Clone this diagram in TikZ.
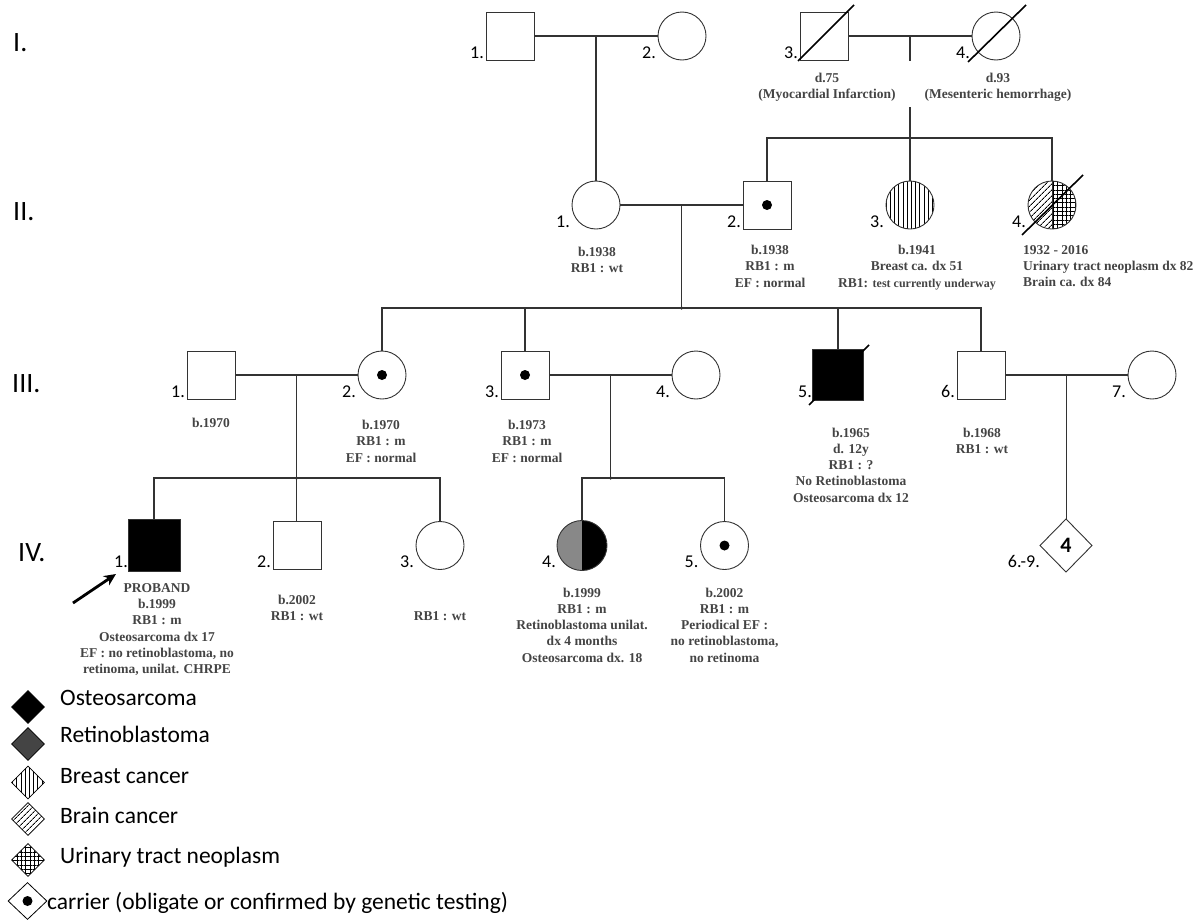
\documentclass[tikz,border=0pt]{standalone}
\usepackage{fontspec}
\setmainfont{Liberation Serif}
\newfontfamily\calib{Carlito}
\usetikzlibrary{
  arrows.meta,
  shapes.geometric,
  positioning,
  calc,
  patterns.meta
}
\definecolor{pgLine}{HTML}{333333}
\definecolor{pgText}{HTML}{444444}
\tikzset{
  person/.style={
    draw=pgLine, line width=0.9pt, minimum size=48pt, inner sep=0pt, outer sep=0pt
  },
  male/.style={person, rectangle},
  female/.style={person, circle},
  affected/.style={fill=black},
  carrier/.style={path picture={\fill[black] (path picture bounding box.center) circle[radius=5pt];}},
  deceased/.style={line width=1.6pt, black},
  pline/.style={line width=1.2pt, pgLine},
  junction/.style={circle, fill=pgLine, inner sep=0pt, minimum size=3.5pt},
  num/.style={font=\calib\fontsize{18}{18}\selectfont, anchor=base east, inner sep=0pt},
  gen/.style={font=\calib\fontsize{28}{28}\selectfont, anchor=base west, inner sep=0pt},
  info/.style={font=\bfseries\fontsize{13.5}{16.3}\selectfont, text=pgText, align=center, inner sep=0pt},
  osteo/.style={fill=black},
  breast/.style={pattern={Lines[angle=90, distance=4.2pt, line width=1pt]}},
  brain/.style={pattern={Lines[angle=45, distance=4pt, line width=0.85pt]}},
  urinary/.style={pattern={Hatch[angle=0, distance=4.3pt, line width=0.85pt]}},
  retino/.style={preaction={fill=black!30}, pattern={Dots[distance=2pt, radius=0.7pt]}},
  retinoleg/.style={preaction={fill=black!65}, pattern={Dots[distance=2pt, radius=0.7pt]}},
  brainurin/.style={path picture={
    \path[brain] (path picture bounding box.south west) rectangle (path picture bounding box.north);
    \path[urinary] (path picture bounding box.south) rectangle (path picture bounding box.north east);
    \draw[line width=0.9pt] (path picture bounding box.south) -- (path picture bounding box.north);
  }},
  retinohalf/.style={path picture={
    \path[retino] (path picture bounding box.south west) rectangle (path picture bounding box.north);
    \fill[black] (path picture bounding box.south) rectangle (path picture bounding box.north east);
  }},
  probandarrow/.style={-{Stealth[length=12pt, width=11pt]}, line width=2.8pt, black},
  legsym/.style={draw=black, diamond, line width=0.8pt, minimum width=33pt, minimum height=33pt, inner sep=0pt},
  legtext/.style={font=\calib\fontsize{23.5}{23.5}\selectfont, anchor=base west, inner sep=0pt}
}

\begin{document}
\begin{tikzpicture}[x=1pt, y=-1pt]
  \useasboundingbox (0,0) rectangle (1201,921);

  % generation labels
  \node[gen] (g1) at (13,51) {I.};
  \node[gen] (g2) at (13,220) {II.};
  \node[gen] (g3) at (12,392) {III.};
  \node[gen] (g4) at (18,561) {IV.};

  % generation I
  \node[male] (i1) at (510,36) {};
  \node[female] (i2) at (682,36) {};
  \node[male] (i3) at (824,36) {};
  \node[female] (i4) at (996,36) {};

  % generation II
  \node[female] (ii1) at (596,205) {};
  \node[male, carrier] (ii2) at (767,205) {};
  \node[female, breast] (ii3) at (910,205) {};
  \node[female, brainurin] (ii4) at (1052,205) {};

  % generation III
  \node[male] (iii1) at (211,375) {};
  \node[female, carrier] (iii2) at (382,375) {};
  \node[male, carrier] (iii3) at (525,375) {};
  \node[female] (iii4) at (696,375) {};
  \node[male, affected, minimum size=51pt] (iii5) at (838,375) {};
  \node[male] (iii6) at (981,375) {};
  \node[female] (iii7) at (1152,375) {};

  % generation IV
  \node[male, affected, minimum size=52pt] (iv1) at (154,545) {};
  \node[male] (iv2) at (297,545.5) {};
  \node[female] (iv3) at (440,545.5) {};
  \node[female, minimum size=50pt, retinohalf] (iv4) at (582,545.5) {};
  \node[female, carrier] (iv5) at (724.5,545.5) {};
  \node[person, diamond, minimum width=52pt, minimum height=53pt,
    font=\calib\bfseries\fontsize{22}{22}\selectfont] (iv69) at (1066,545.5) {4};

  % couples and sibships
  \coordinate (m1) at ($(i1.east)!0.5!(i2.west)$);
  \draw[pline] (i1.east) -- (i2.west);
  \draw[pline] (m1) -- (m1 |- ii1.north);

  \coordinate (m2) at ($(i3.east)!0.5!(i4.west)$);
  \coordinate (s2) at ($(m2)+(0,102)$);
  \draw[pline] (i3.east) -- (i4.west);
  \draw[pline] (m2) -- ++(0,25);
  \draw[pline] ($(m2)+(0,71)$) -- (s2);
  \draw[pline] (ii2.north) -- (ii2.north |- s2) -- (ii4.north |- s2) -- (ii4.north);
  \draw[pline] (s2) -- (ii3.north);
  \node[junction] (j2) at (s2) {};

  \coordinate (m3) at ($(ii1.east)!0.5!(ii2.west)$);
  \coordinate (s3) at ($(m3)+(0,103)$);
  \draw[pline] (ii1.east) -- (ii2.west);
  \draw[pline] (m3) -- (s3);
  \draw[pline] (iii2.north) -- (iii2.north |- s3) -- (iii6.north |- s3) -- (iii6.north);
  \draw[pline] (iii3.north |- s3) -- (iii3.north);
  \draw[pline] (iii5.north |- s3) -- (iii5.north);
  \node[junction] (j3) at (s3) {};

  \coordinate (m4) at ($(iii1.east)!0.5!(iii2.west)$);
  \coordinate (s4) at ($(m4)+(0,103)$);
  \draw[pline] (iii1.east) -- (iii2.west);
  \draw[pline] (m4) -- (m4 |- iv2.north);
  \draw[pline] (iv1.north) -- (iv1.north |- s4) -- (iv3.north |- s4) -- (iv3.north);
  \node[junction] (j4) at (s4) {};

  \coordinate (m5) at ($(iii3.east)!0.5!(iii4.west)$);
  \coordinate (s5) at ($(m5)+(0,103)$);
  \draw[pline] (iii3.east) -- (iii4.west);
  \draw[pline] (m5) -- (s5);
  \draw[pline] (iv4.north) -- (iv4.north |- s5) -- (iv5.north |- s5) -- (iv5.north);
  \node[junction] (j5) at (s5) {};

  \coordinate (m6) at ($(iii6.east)!0.5!(iii7.west)$);
  \draw[pline] (iii6.east) -- (iii7.west);
  \draw[pline] (m6) -- (m6 |- iv69.north);

  % deceased
  \draw[deceased] ($(i3.center)+(-26,25)$) -- ($(i3.center)+(30,-31)$);
  \draw[deceased] ($(i4.center)+(-28,26)$) -- ($(i4.center)+(30,-31)$);
  \draw[deceased] ($(ii4.center)+(-30,30)$) -- ($(ii4.center)+(31,-30)$);
  \draw[deceased] ($(iii5.center)+(-29,30)$) -- ($(iii5.center)+(31,-30)$);

  % individual numbers
  \foreach \p/\t in {i1/1., i2/2., i3/3., i4/4., ii1/1., ii2/2., ii3/3., ii4/4.,
      iii1/1., iii2/2., iii3/3., iii4/4., iii5/5., iii6/6., iii7/7.,
      iv1/1., iv2/2., iv3/3., iv4/4., iv5/5., iv69/6.-9.}
    \node[num] (n\p) at ($(\p.center)+(-26,22)$) {\t};

  % details
  \node[info, below=13pt of i3, xshift=3pt] (i3info) {d.75\\(Myocardial Infarction)};
  \node[info, below=12.5pt of i4, xshift=2pt] (i4info) {d.93\\(Mesenteric hemorrhage)};
  \node[info, below=18pt of ii1, xshift=1pt] (ii1info) {b.1938\\RB1 : wt};
  \node[info, below=16pt of ii2, xshift=3pt] (ii2info) {b.1938\\RB1 : m\\EF : normal};
  \node[info, below=16pt of ii3, xshift=7pt] (ii3info)
    {b.1941\\Breast ca. dx 51\\RB1: {\fontsize{12}{16.3}\selectfont test currently underway}};
  \node[info, align=left, anchor=north west] (ii4info) at ([xshift=-29pt, yshift=-16pt]ii4.south)
    {1932 - 2016\\Urinary tract neoplasm dx 82\\Brain ca. dx 84};
  \node[info, below=19pt of iii1] (iii1info) {b.1970};
  \node[info, below=21pt of iii2, xshift=-1pt] (iii2info) {b.1970\\RB1 : m\\EF : normal};
  \node[info, below=21pt of iii3, xshift=2pt] (iii3info) {b.1973\\RB1 : m\\EF : normal};
  \node[info, below=27pt of iii5, xshift=13pt] (iii5info)
    {b.1965\\d. 12y\\RB1 : ?\\No Retinoblastoma\\Osteosarcoma dx 12};
  \node[info, below=29pt of iii6, xshift=1pt] (iii6info) {b.1968\\RB1 : wt};
  \node[info, below=12pt of iv1, xshift=3pt] (iv1info)
    {PROBAND\\b.1999\\RB1 : m\\Osteosarcoma dx 17\\EF : no retinoblastoma, no\\retinoma, unilat. CHRPE};
  \node[info, below=25pt of iv2] (iv2info) {b.2002\\RB1 : wt};
  \node[info, below=42pt of iv3] (iv3info) {RB1 : wt};
  \node[info, below=17pt of iv4] (iv4info)
    {b.1999\\RB1 : m\\Retinoblastoma unilat.\\dx 4 months\\Osteosarcoma dx. 18};
  \node[info, below=18pt of iv5] (iv5info)
    {b.2002\\RB1 : m\\Periodical EF :\\no retinoblastoma,\\no retinoma};

  % proband arrow
  \coordinate (arrtail) at (73,603);
  \draw[probandarrow] (arrtail) -- ($(iv1.south west)+(-12,3)$);

  % legend
  \foreach \n/\y/\b/\s/\t in {1/707/705/osteo/Osteosarcoma, 2/744/742.7/retinoleg/Retinoblastoma,
      3/782.5/783/breast/Breast cancer, 4/819/823/brain/Brain cancer,
      5/860/863/urinary/Urinary tract neoplasm} {
    \node[legsym, \s] (lg\n) at (28,\y) {};
    \node[legtext] (lt\n) at (60,\b) {\t};
  }
  \node[legsym, carrier, minimum width=39pt, minimum height=37pt] (lg6) at (27.5,901) {};
  \node[legtext] (lt6) at (47,909.5) {carrier (obligate or confirmed by genetic testing)};
\end{tikzpicture}
\end{document}
